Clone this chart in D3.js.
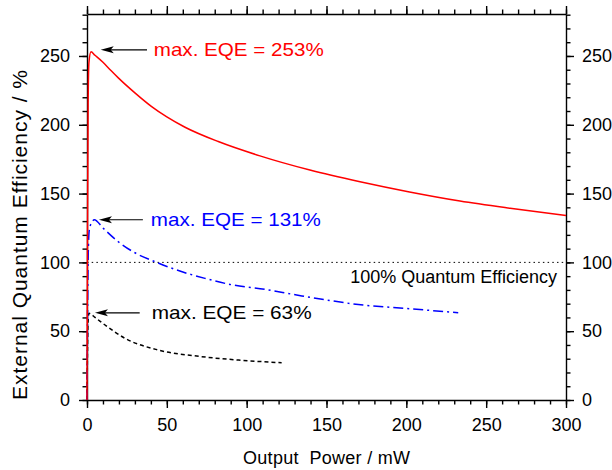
<!DOCTYPE html>
<html>
<head>
<meta charset="utf-8">
<script src="https://cdn.jsdelivr.net/npm/d3@7"></script>
<style>
  body { margin: 0; background: #fff; }
  svg text { font-family: Arial, 'Liberation Sans', sans-serif; }
</style>
</head>
<body>
<div id="chart"></div>
<script>
// EQE vs output power
var width = 612, height = 470
var margin = { top: 14, right: 46, bottom: 70, left: 87 }

// data
var redX  = [0, 0.3, 0.7, 1.2, 2.5, 5, 10, 15, 19.6, 30, 40.5, 50, 61.4, 82.2, 108.3, 139.6, 171, 202, 233.6, 265, 300]
var redY  = [0, 120, 215, 245, 253, 250.5, 245.4, 239.4, 234.1, 223.2, 213.2, 205.7, 198.2, 187.8, 177.4, 167.1, 158.6, 151.2, 144.6, 139.3, 134]
var blueX = [0, 0.4, 0.9, 1.5, 3, 4.6, 10, 19.6, 30, 42.6, 60, 73.9, 89.5, 111.5, 131.3, 173, 200, 232.5]
var blueY = [0, 70, 112, 124, 129, 131, 125, 115, 107, 100.5, 93, 88.4, 84, 80.4, 76.3, 69, 66.5, 63.4]
var blackX = [0, 0.3, 0.6, 1, 1.3, 5, 11.3, 23.8, 44.7, 71.8, 95, 121.9]
var blackY = [0, 35, 55, 62, 63, 60, 54.5, 44.8, 36.3, 31.5, 29, 27.1]

var xMajor = [0, 50, 100, 150, 200, 250, 300]
var yMajor = [0, 50, 100, 150, 200, 250]

var iw = width - margin.left - margin.right
var ih = height - margin.top - margin.bottom

var svg = d3.select('#chart').append('svg')
  .attr('width', width)
  .attr('height', height)

var g = svg.append('g')
  .attr('transform', 'translate(' + margin.left + ',' + margin.top + ')')

var x = d3.scaleLinear().domain([0, 300]).range([0, iw])
var y = d3.scaleLinear().domain([0, 280.5]).range([ih, 0])

var xMinor = d3.range(0, 301, 10)
var yMinor = d3.range(0, 281, 10)

// axes: minor ticks first, then the labelled ones
function drawAxis(axisFn, scale, major, minor, tf, labels, pad) {
  var gm = g.append('g').attr('transform', tf)
    .call(axisFn(scale).tickValues(minor).tickSize(4.5).tickFormat('').tickSizeOuter(0))
  gm.select('.domain').remove()
  var ga = g.append('g').attr('transform', tf)
    .call(axisFn(scale).tickValues(major).tickSize(8).tickSizeOuter(0).tickPadding(pad)
      .tickFormat(labels ? d3.format('d') : ''))
  ga.selectAll('text').attr('font-size', 18).attr('fill', '#000')
  ga.selectAll('line, path').attr('stroke', '#000').attr('stroke-width', 1.4)
  gm.selectAll('line').attr('stroke', '#000').attr('stroke-width', 1.4)
  return ga
}

drawAxis(d3.axisBottom, x, xMajor, xMinor, 'translate(0,' + ih + ')', true, 10)
drawAxis(d3.axisTop, x, xMajor, xMinor, 'translate(0,0)', false, 3)
drawAxis(d3.axisLeft, y, yMajor, yMinor, 'translate(0,0)', true, 9)
drawAxis(d3.axisRight, y, yMajor, yMinor, 'translate(' + iw + ',0)', true, 8)

// 100% line
g.append('line')
  .attr('x1', x(0)).attr('x2', x(300))
  .attr('y1', y(100)).attr('y2', y(100))
  .attr('stroke', '#000')
  .attr('stroke-width', 1)
  .attr('stroke-dasharray', '1.5,3.2')

g.append('text')
  .attr('x', x(300) - 9)
  .attr('y', y(100) + 21)
  .attr('text-anchor', 'end')
  .attr('font-size', 18)
  .text('100% Quantum Efficiency')

var line = d3.line()
  .x(function(d) { return x(d[0]) })
  .y(function(d) { return y(d[1]) })
  .curve(d3.curveMonotoneX)

function series(xs, ys, color, dash) {
  var pts = xs.map(function(v, i) { return [v, ys[i]] })
  g.append('path')
    .datum(pts)
    .attr('d', line)
    .attr('fill', 'none')
    .attr('stroke', color)
    .attr('stroke-width', 1.5)
    .attr('stroke-dasharray', dash)
}

series(blackX, blackY, '#000', '4,3')
series(blueX, blueY, '#0000ff', '10,4,2,4')
series(redX, redY, '#ff0000', null)

// annotations (arrow tip, arrow tail, text start, all in mW)
var notes = [
  { py: 253, tip: 8.6, tail: 37.6, tx: 41.8, text: 'max. EQE = 253%', color: '#ff0000', dy: -2, len: 170 },
  { py: 131, tip: 7.5, tail: 35, tx: 40, text: 'max. EQE = 131%', color: '#0000ff', dy: 0, len: 170 },
  { py: 63, tip: 5, tail: 33, tx: 40.5, text: 'max. EQE = 63%', color: '#000', dy: -0.5, len: 160 }
]

notes.forEach(function(n) {
  var yy = y(n.py) + n.dy
  var t = x(n.tip)
  g.append('line')
    .attr('x1', x(n.tail)).attr('x2', t + 9)
    .attr('y1', yy).attr('y2', yy)
    .attr('stroke', '#000')
    .attr('stroke-width', 1.2)
  g.append('path')
    .attr('d', 'M' + t + ',' + yy + 'L' + (t + 13) + ',' + (yy - 3.5) + 'L' + (t + 10) + ',' + yy +
      'L' + (t + 13) + ',' + (yy + 3.5) + 'Z')
    .attr('fill', '#000')
  g.append('text')
    .attr('x', x(n.tx))
    .attr('y', yy + 6.5)
    .attr('font-size', 19)
    .attr('fill', n.color)
    .attr('textLength', n.len)
    .attr('lengthAdjust', 'spacingAndGlyphs')
    .text(n.text)
})

// axis titles
svg.append('text')
  .attr('x', margin.left + iw / 2)
  .attr('y', 464)
  .attr('text-anchor', 'middle')
  .attr('font-size', 18)
  .attr('textLength', 167)
  .style('white-space', 'pre')
  .text('Output  Power / mW')

svg.append('text')
  .attr('transform', 'translate(27,235) rotate(-90)')
  .attr('text-anchor', 'middle')
  .attr('font-size', 21)
  .attr('textLength', 330)
  .text('External Quantum Efficiency / %')
</script>
</body>
</html>
